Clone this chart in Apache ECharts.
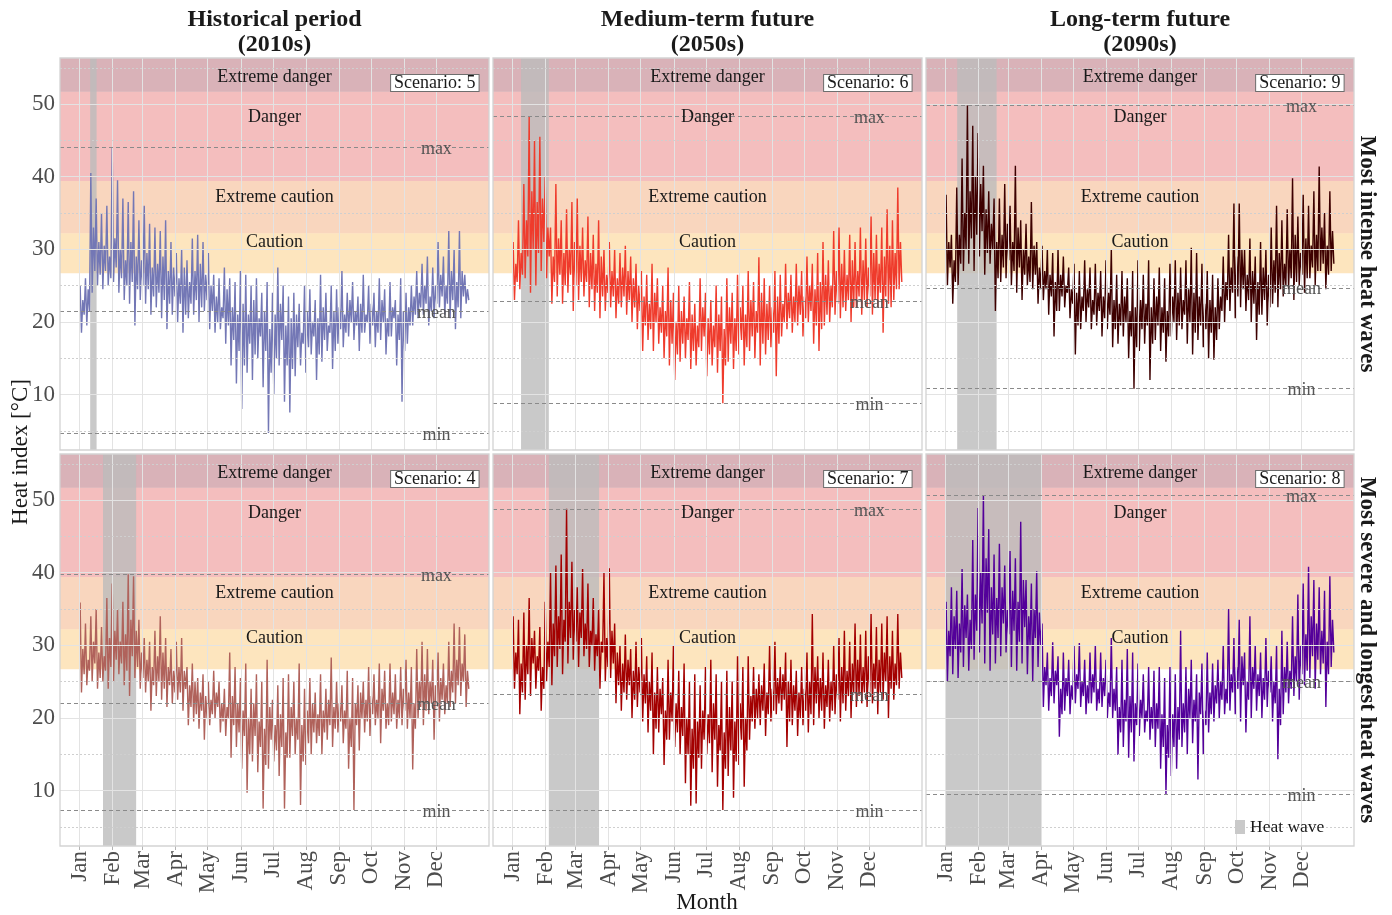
<!DOCTYPE html>
<html>
<head>
<meta charset="utf-8">
<script src="https://cdn.jsdelivr.net/npm/echarts@6/dist/echarts.min.js"></script>
<style>
  html, body { margin: 0; padding: 0; background: #ffffff; }
  #chart { width: 1392px; height: 915px; }
</style>
</head>
<body>
<div id="chart"></div>
<script>
// ---- axes and categories ----
const months = ['Jan', 'Feb', 'Mar', 'Apr', 'May', 'Jun', 'Jul', 'Aug', 'Sep', 'Oct', 'Nov', 'Dec'];
const monthStartDay = [0, 31, 59, 90, 120, 151, 181, 212, 243, 273, 304, 334];
const yMajorTicks = [10, 20, 30, 40, 50];
const yMinorTicks = [5, 15, 25, 35, 45, 55];

// heat index categories (lower bound, °C) and where their names sit
const bandNames = ['Caution', 'Extreme caution', 'Danger', 'Extreme danger'];
const bandLower = [26.7, 32.2, 39.4, 51.7];
const bandLabelValue = [31.2, 37.4, 48.5, 54];

const periodTitles = ['Historical period', 'Medium-term future', 'Long-term future'];
const periodYears = ['(2010s)', '(2050s)', '(2090s)'];
const rowTitles = ['Most intense heat waves', 'Most severe and longest heat waves'];

// panel order: row 1 (2010s, 2050s, 2090s), row 2 (2010s, 2050s, 2090s)
const scenarioIds = [5, 6, 9, 4, 7, 8];
const heatWaveStart = [10, 8, 11, 22, 34, 0];   // day of year
const heatWaveEnd = [16, 34, 48, 53, 81, 90];
const statMax = [44.0, 48.3, 49.8, 39.8, 48.8, 50.7];
const statMean = [21.4, 22.9, 24.7, 22.0, 23.2, 25.1];
const statMin = [4.7, 8.8, 10.8, 7.3, 7.3, 9.5];

// heat index (°C) per five-day step, Jan 1 -> Dec 31:
// main peak, main trough, secondary peak, secondary trough
const peaks2010sIntense = [25,26,40.5,37,35,36,44,39.5,37,36.5,38,34,36,33.5,33,32.5,34,31,29.5,30,28.5,31.5,32,31,29.5,26.5,26,27.5,26,25.5,27,26.5,25,26,24,25.5,24,27.5,25,23.5,24,22.5,25,24.5,23,26.5,24,25,24.5,27,24,25.5,23.5,26.5,25,24,26,24.5,25.5,23,26,24,25,27,28,29,27.5,31,29,32.5,30,32.5,26.5];
const troughs2010sIntense = [18.5,19.5,24,25,24.5,25,25.5,24,23,22.5,19.5,23,22.5,21,22,20.5,19,21,20,18.5,20.5,21,20,21.5,19,18.5,19,17,14,11.5,8,13,12,15,11,4.7,10,14,9,7.5,12.5,14,13,15.5,12,14.5,16,13.5,17,16.5,18,17.5,16,18.5,17,16.5,17.5,15.5,18,14,9,17,19.5,20.5,21,19.5,20.5,22,21,20.5,19,20.5,22.5];
const subPeaks2010sIntense = [23,24.5,33,31,30.5,29,31.5,30,28.5,31,29,28.5,29.5,27.5,28,29,27,27.5,26,27.5,25.5,27,28,26.5,25,23.5,22,24.5,22,21,22.5,21,23,20.5,21.5,19,21,22.5,19.5,20.5,21,18.5,21.5,20,20.5,22,19.5,21.5,22,21,23,21.5,22.5,21,22.5,21.5,23,20.5,22,21,21.5,22,23.5,24,25,23.5,25,26.5,25,27,25.5,27,24.5];
const subTroughs2010sIntense = [21,21.5,27,26.5,27,26,27.5,26,25,25.5,24.5,25,24.5,23.5,24,23,22.5,23.5,22.5,21,22.5,23,22,23,21.5,20,20.5,19.5,17.5,16,14,17,15.5,18,16,13,15,17.5,14,13.5,16.5,17,16.5,18,15.5,17.5,18.5,16,19,18.5,20,19.5,18.5,20,19.5,18.5,20,18,20.5,17.5,16,19.5,21,22,22.5,21.5,22.5,23.5,22.5,23,22,23.5,23];

const peaks2050sIntense = [31,34,39,48.3,45,45.5,40,33,39,34,35.5,36.5,37,33,34.5,32,34,30,31,30,29.5,30.5,29,28,27,26.5,28,26,25,27.5,24,25,23.5,25.5,22.5,26,24,23,25,23.5,26,24,26.5,25,27,25.5,28.9,26,25,27,26.5,28,26.5,28,27,29,28,29.5,31,28.5,32.5,33,30,32,31,33,31.5,34.5,32,33,35.5,34,38.5];
const troughs2050sIntense = [23,24.5,26,24,25,27,26,22.5,23.5,22.5,24,21.5,23,23.5,22,21.5,20.5,21.5,22,20.5,22,21,20,19,16,17.5,16,17,15,14,12,14.5,15,13.5,14,16,12.5,14,13,8.8,14.5,13.5,15.5,14,16,15,14,15.5,16.5,12.5,18,19,18.5,19.5,18,20,17,16,19.5,20,21,20.5,21.5,20,22,21,22,21,22,18.5,22.5,23,24.5];
const subPeaks2050sIntense = [28,29.5,34,38,36.5,37,33,29,31.5,29.5,30,31,30.5,28.5,29.5,28,29,26.5,27,26,27.5,27,26,25,23.5,22.5,24,22,21.5,23,20,21.5,20.5,21,19.5,22,20.5,19.5,21,19,22,20.5,22,21,23,21.5,24,22.5,22,23.5,22.5,24,23.5,25,23.5,25,24.5,25.5,26.5,25,27,28,26.5,28.5,27,28.5,27.5,29.5,28,29,30.5,29.5,31];
const subTroughs2050sIntense = [25.5,26.5,29,30,29.5,31,29,25.5,26.5,25,26.5,25,25.5,25.5,24.5,24,23.5,24,23.5,22.5,23.5,23,22,21.5,19.5,19,20,18.5,18,17,15.5,17,17.5,16,16.5,18,15.5,16.5,16,14,17,16,17.5,16.5,18,18.5,17,17.5,18.5,17,20,20.5,20,21,20.5,21.5,19.5,19,21,22,22.5,22,23,22,23.5,23,23.5,23,24,23.5,22,24.5,25.5];

const peaks2090sIntense = [37.5,32,38.5,42.5,49.8,47,46,41.5,38,37,37,39,36,41.5,34,33.5,36.5,31,30.5,30,29.5,30,29,27.5,28,27,28.5,27.5,28,27,28.5,30,26.5,27,26,27,28.5,26.5,28.5,26,27.5,26,28,28.5,27.5,28.5,30.2,29.5,28,27,26.5,26,29,32,36.3,36.3,30,31.5,29,31,30,33,36,34,35.5,39.8,34.5,37.5,36,38,41.4,35,38];
const troughs2090sIntense = [25,22.5,25,27,28,27,29,26.5,28,21.5,25.5,26,25,24,23,25,24.5,22.5,23,21,18,21.5,22,20.5,15.5,19,20,19,19.5,18,19,16.5,17,18,15,10.8,16,17,12,17.5,16,14.5,18,17.5,19,17,15.5,17.5,16.5,15,14.8,19,20,21.5,20.5,22,21.5,20,17.5,21,19.5,22.5,22,23.5,24.5,23,25,24,26,25,27,24.5,27];
const subPeaks2090sIntense = [31,28.5,32,35,38,40,39,35.5,33.5,31,32,33.5,31,33,30,29,30.5,27.5,27,26.5,25.5,26.5,25,24.5,24,23.5,24.5,23,24,23.5,24,23,22.5,23.5,21.5,22,23,22.5,22,23.5,22,21.5,23.5,24,23,24.5,24,23.5,22.5,23,22,23.5,25.5,27.5,29,30,26.5,27,25.5,27.5,26.5,28.5,29.5,28,30,32,29.5,31.5,30.5,32,33,30.5,32.5];
const subTroughs2090sIntense = [27.5,25.5,28,30,31.5,32,32.5,29.5,30,26,27.5,28.5,27,27.5,26.5,25.5,26.5,24.5,24.5,23.5,21.5,23.5,24,22.5,19.5,21.5,22,21,21.5,20.5,21,19,19.5,20,18,16.5,19,19.5,17,19.5,18.5,18,20,19.5,21,20,18.5,19.5,19,18.5,17.5,21.5,23,24,23.5,24.5,23,22.5,21,23,22,24,24.5,25,26,25.5,26.5,26,27.5,27,28,26.5,28];

const peaks2010sSevere = [35.9,33,34,35,32.5,36.5,38.5,35,36,39.8,39.5,33.5,31,30.5,32,34,31,29.5,30.5,31,27,27.5,25.5,26,25,26.5,25,24,29,27,25.5,27.5,24,26,25,28,22.5,24.5,25.5,26,25,27.5,24,25.5,23.5,26,24,28.3,25,24.5,26.5,25.5,24.5,25,27,26,27.5,26.5,27.5,26,27,28,27,29.5,30.5,29.5,28,29,27.5,30.5,33,32.5,31.5];
const troughs2010sSevere = [23.5,24.5,25,24,25,24,25,26,24.5,23,25.5,24,23.5,21,23,22.5,21.5,22,22.5,21,19,19.5,18.5,17,19,20,18,17.5,14.5,16,13,9.7,14,12.5,7.5,13,14,12,7.5,14.5,15,8,13.5,15,16.5,15,17,16,18,16.5,13,7.3,15.5,18,17.5,19,16.5,18.5,19.5,18.5,19,18.5,12.9,20,19,20.5,17,19.5,20.5,21.5,22,23,21.5];
const subPeaks2010sSevere = [29.5,28,30.5,29,28.5,31,32,30.5,31.5,33.5,32,29,28,27,28.5,29,27,26.5,27,26.5,24.5,25,23.5,23,22.5,23.5,22,21.5,23,22,21,20,22,19.5,18.5,21.5,19,20.5,18,21.5,20,19,21,22,20.5,21,22.5,21.5,22,21,20,22,23.5,22.5,23,22.5,24,22,23.5,22.5,24,23.5,22,25,26,25,24.5,25.5,24.5,26.5,28,27.5,26.5];
const subTroughs2010sSevere = [26,26.5,27.5,25.5,26.5,27,28,27.5,26.5,28.5,27,25.5,25,24.5,25,24,24.5,23.5,23.5,24,21.5,20.5,21,20,20.5,21.5,19.5,20,19,18,17.5,15,17.5,16,13.5,17,15.5,16,14.5,17.5,17,14,16.5,18,17.5,18,19,18.5,19.5,18.5,16,19,20,19.5,20.5,20,21,19,20.5,20,21,20,18.5,21.5,21,22,21.5,22.5,22,23.5,24.5,25,24];

const peaks2050sSevere = [34,33.5,34.5,36.5,32,32.5,36,40,41,42.5,48.8,41.5,38,40.5,38.5,36.5,35,40,40.6,33,30,31.5,29.5,30.5,31,28.5,29,27,25.5,28,30,26.5,27.5,25,26,24.5,27,28,26,25,26.5,25,28.5,27,28.5,27,26,27.5,30,30.5,27,29,28,26.5,27,29,34.3,28.5,29,28,30,31,32,30.5,33,31.5,32,34.3,32.5,33,34,32,34.3];
const troughs2050sSevere = [24,20.5,22.5,23,24,21,25,24.5,27,26,27.5,28,27,28.5,27,26.5,24,25,25.5,22,21,22.5,20,21.5,19.5,18,15,18,13.5,17,16,15,11,7.9,8.2,13,15,12.5,10.5,7.3,12,9,13.5,10.5,17,18.5,19,17.5,19.5,20.5,21,16,19,17.5,19,18,19,20,18.5,19.5,20.5,19.5,21,20,21.5,22,21.5,22,20.5,22.5,20,22.5,24];
const subPeaks2050sSevere = [29,27.5,30,31,28.5,27,30.5,33,34,33.5,36,35,34.5,33,32,31.5,30.5,31,32,29,27.5,28,26.5,27,26,25,23.5,24,21,23.5,22,21.5,20,18.5,19.5,21,20.5,22,19,18,21.5,19.5,22,20,23,24,24.5,23.5,24,25.5,26,25,24.5,23.5,24,25,27,25.5,24.5,25,26,27,26.5,27.5,28,27,28.5,27.5,28,29,28.5,27.5,29];
const subTroughs2050sSevere = [26,23.5,26,27.5,26.5,24,27,28.5,29.5,30.5,31,30.5,31,29.5,30,28.5,29,27,27.5,24.5,23.5,24.5,22.5,23.5,22,21,18.5,20.5,17,19.5,18,17.5,15,13,14.5,17,16.5,17,15.5,13,15.5,14,17,15.5,19.5,20,21,20.5,21,22,22.5,19.5,21,20,21,20.5,22,21,21.5,21,22.5,22,23,23.5,23,23.5,23.5,24,23.5,25,24,24.5,25.5];

const peaks2090sSevere = [36,38,37.5,40.5,37,44.5,48.9,50.7,46,42.5,44,41,43,42,47,39,38.5,40.2,33,29,30.4,28.5,29,28,30,30.3,28,29,30,29,28,31,27,28,29.5,29,27.5,26,27,26.5,27,25.5,27,26,32,27,28,26,27.5,29,27.5,28,30,35,31,33.5,29,34,30,29,31,28.5,30,32,30.5,34,37,38.5,40.8,39,38,37.5,39.5];
const troughs2090sSevere = [25,26,25.5,27,26.5,28,29,27.5,26.5,27.5,28.5,29,27,26.5,27.5,26,25,27,21.5,21,22,17.4,21,20.5,22,21.5,20.5,22,21,21.5,20,20,14.9,16,14.5,14,17.5,18,17,16,13,9.5,12,13,16,15,16.5,11.5,15,18,19.5,20,20.5,21,20.5,19.5,18,20,21,20,21.5,19.5,14.3,20.5,22,23,22.5,24.5,25.5,24,26,21.5,27];
const subPeaks2090sSevere = [32,34,33,35.5,33.5,37,40,42,38,36.5,38,35,37.5,36,39,34,35,34.5,27,25.5,26.5,24,25.5,24.5,26,25,24.5,26,24,25.5,23.5,24,21.5,22.5,23,22,22.5,21,21.5,22,20.5,19,20.5,21.5,22,24,22.5,23.5,21,23.5,24.5,25,24,26,27,28.5,25,27,26,25.5,26.5,25,24,27,26.5,28.5,30,31.5,34,33,32,30.5,33.5];
const subTroughs2090sSevere = [28.5,29.5,29,31,29.5,32,33,34.5,31.5,31,33,31.5,32,30.5,32.5,30,31,30,24.5,23,24.5,20.5,23,22.5,24,23,22,23.5,22,23,21.5,21,18,19.5,18,19,20,19.5,18.5,18.5,16,14.5,16,17,18,20,19.5,20.5,19,20.5,22,22.5,22,23.5,24,24.5,22.5,24,23,22.5,23.5,22,19,23.5,24,25,26,26.5,28.5,28,27.5,26,29];

const peakSeries = [peaks2010sIntense, peaks2050sIntense, peaks2090sIntense, peaks2010sSevere, peaks2050sSevere, peaks2090sSevere];
const troughSeries = [troughs2010sIntense, troughs2050sIntense, troughs2090sIntense, troughs2010sSevere, troughs2050sSevere, troughs2090sSevere];
const subPeakSeries = [subPeaks2010sIntense, subPeaks2050sIntense, subPeaks2090sIntense, subPeaks2010sSevere, subPeaks2050sSevere, subPeaks2090sSevere];
const subTroughSeries = [subTroughs2010sIntense, subTroughs2050sIntense, subTroughs2090sIntense, subTroughs2010sSevere, subTroughs2050sSevere, subTroughs2090sSevere];
const lineColors = ['#7377b5', '#ef3b2c', '#3d0000', '#b0625b', '#a30000', '#53009a'];

// ---- layout ----
const FONT = 'Liberation Serif';
const colLeft = [60, 493, 926];
const colWidth = [429, 429, 428];
const rowTop = [58, 454];
const panelHeight = 392;
const X_MIN = -18.25, X_MAX = 383.25;
const Y_MIN = 2.35, Y_MAX = 56.35;
const DAYS_PER_STEP = 5;
const STEP_OFFSETS = [0.6, 1.85, 3.1, 4.35];

const bandColors = ['rgba(250,170,40,0.3)', 'rgba(235,120,40,0.3)', 'rgba(220,40,40,0.3)', 'rgba(140,20,40,0.33)'];

// interleave the four readings of each five-day step into one time series
function weave(p) {
  const cols = [peakSeries[p], troughSeries[p], subPeakSeries[p], subTroughSeries[p]];
  const pts = [];
  for (let k = 0; k < cols[0].length; k++) {
    cols.forEach((arr, j) => pts.push([k * DAYS_PER_STEP + STEP_OFFSETS[j], arr[k]]));
  }
  return pts;
}

const grids = [], xAxes = [], yAxes = [], series = [], graphics = [];

for (let p = 0; p < 6; p++) {
  const row = Math.floor(p / 3), col = p % 3;
  const bottomRow = row === 1, leftCol = col === 0;
  grids.push({
    left: colLeft[col], top: rowTop[row], width: colWidth[col], height: panelHeight,
    containLabel: false, outerBoundsMode: 'none', show: false
  });
  xAxes.push({
    gridIndex: p, type: 'value', min: X_MIN, max: X_MAX,
    splitLine: { show: false }, axisLine: { show: false },
    axisTick: { show: bottomRow, customValues: monthStartDay, length: 4, lineStyle: { color: '#b3b3b3' } },
    axisLabel: {
      show: bottomRow, customValues: monthStartDay, rotate: 90, margin: 5,
      fontFamily: FONT, fontSize: 23, color: '#4d4d4d',
      formatter: v => months[monthStartDay.indexOf(Math.round(v))] || ''
    }
  });
  yAxes.push({
    gridIndex: p, type: 'value', min: Y_MIN, max: Y_MAX,
    splitLine: { show: false }, axisLine: { show: false },
    axisTick: { show: leftCol, customValues: yMajorTicks, length: 4, lineStyle: { color: '#b3b3b3' } },
    axisLabel: {
      show: leftCol, customValues: yMajorTicks, margin: 5,
      fontFamily: FONT, fontSize: 23, color: '#4d4d4d'
    }
  });

  const base = { xAxisIndex: p, yAxisIndex: p, animation: false, silent: true };

  // panel grid lines
  const gridLines = [];
  monthStartDay.forEach(d => gridLines.push({ xAxis: d, lineStyle: { color: '#e3e3e3', width: 1, type: 'solid' } }));
  yMajorTicks.forEach(v => gridLines.push({ yAxis: v, lineStyle: { color: '#e3e3e3', width: 1, type: 'solid' } }));
  yMinorTicks.forEach(v => gridLines.push({ yAxis: v, lineStyle: { color: '#cfcfcf', width: 1, type: [2, 2] } }));
  series.push(Object.assign({}, base, {
    type: 'line', data: [], z: 1,
    markLine: { silent: true, animation: false, symbol: ['none', 'none'], label: { show: false }, data: gridLines }
  }));

  // heat index category bands
  const bandAreas = bandLower.map((lo, i) => [
    { yAxis: lo, itemStyle: { color: bandColors[i] } },
    { yAxis: i < bandLower.length - 1 ? bandLower[i + 1] : Y_MAX }
  ]);
  series.push(Object.assign({}, base, {
    type: 'line', data: [], z: 2,
    markArea: { silent: true, animation: false, data: bandAreas }
  }));

  // heat wave period
  series.push(Object.assign({}, base, {
    type: 'line', data: [], z: 3,
    markArea: {
      silent: true, animation: false,
      data: [[{ xAxis: heatWaveStart[p], itemStyle: { color: 'rgba(188,188,188,0.8)' } }, { xAxis: heatWaveEnd[p] }]]
    }
  }));

  // heat index series
  series.push(Object.assign({}, base, {
    type: 'line', z: 4, showSymbol: false, clip: true,
    data: weave(p),
    lineStyle: { color: lineColors[p], width: 1.4 },
    itemStyle: { color: lineColors[p] }
  }));

  // max / mean / min reference lines
  const statStyle = { color: '#8a8a8a', width: 1, type: [4, 3] };
  series.push(Object.assign({}, base, {
    type: 'line', data: [], z: 5,
    markLine: {
      silent: true, animation: false, symbol: ['none', 'none'], label: { show: false },
      data: [
        { yAxis: statMax[p], lineStyle: statStyle },
        { yAxis: statMean[p], lineStyle: statStyle },
        { yAxis: statMin[p], lineStyle: statStyle }
      ]
    }
  }));

  // text annotations
  const textStyle = { fontFamily: FONT, fontSize: 18, color: '#1a1a1a' };
  const labelPoints = [];
  bandNames.forEach((name, i) => labelPoints.push({
    name: name, coord: [182.5, bandLabelValue[i]],
    label: Object.assign({ show: true, position: 'inside', offset: [0, 2], formatter: '{b}' }, textStyle)
  }));
  [['max', statMax[p]], ['mean', statMean[p]], ['min', statMin[p]]].forEach(([name, v]) => labelPoints.push({
    name: name, coord: [334, v],
    label: Object.assign({ show: true, position: 'inside', offset: [0, 2], formatter: '{b}' }, textStyle, { color: '#555555' })
  }));
  labelPoints.push({
    name: 'Scenario: ' + scenarioIds[p], coord: [373.5, 52.9],
    label: Object.assign({
      show: true, position: 'left', distance: 0, formatter: '{b}',
      backgroundColor: '#ffffff', borderColor: '#6e6e6e', borderWidth: 1,
      padding: [1, 3, 0, 3], lineHeight: 15
    }, textStyle)
  });
  series.push(Object.assign({}, base, {
    type: 'line', data: [], z: 6,
    markPoint: { silent: true, animation: false, symbol: 'circle', symbolSize: 0, data: labelPoints }
  }));

  // panel border
  graphics.push({
    type: 'rect', z: 100, silent: true,
    shape: { x: colLeft[col], y: rowTop[row], width: colWidth[col], height: panelHeight },
    style: { fill: 'none', stroke: '#d3d3d3', lineWidth: 1.3 }
  });
}

function label(text, x, y, opts) {
  return Object.assign({
    type: 'text', x: x, y: y, z: 110, silent: true,
    style: Object.assign({
      text: text, fill: '#1a1a1a', font: '23px "' + FONT + '"',
      align: 'center', verticalAlign: 'middle', textAlign: 'center', textVerticalAlign: 'middle'
    }, opts && opts.style)
  }, opts && opts.el);
}

// column titles
for (let c = 0; c < 3; c++) {
  const cx = colLeft[c] + colWidth[c] / 2;
  graphics.push(label(periodTitles[c], cx, 20, { style: { font: 'bold 24px "' + FONT + '"' } }));
  graphics.push(label(periodYears[c], cx, 45, { style: { font: 'bold 24px "' + FONT + '"' } }));
}
// row strips
for (let r = 0; r < 2; r++) {
  graphics.push(label(rowTitles[r], 1367, rowTop[r] + panelHeight / 2, {
    style: { font: 'bold 23px "' + FONT + '"' }, el: { rotation: -Math.PI / 2 }
  }));
}
// axis titles
graphics.push(label('Heat index [°C]', 21, 452, { el: { rotation: Math.PI / 2 } }));
graphics.push(label('Month', 707, 903));
// legend
graphics.push({
  type: 'rect', z: 110, silent: true,
  shape: { x: 1235, y: 820, width: 10, height: 14 },
  style: { fill: '#c9c9c9' }
});
graphics.push(label('Heat wave', 1250, 827, { style: { font: '17.5px "' + FONT + '"', align: 'left', textAlign: 'left' } }));

const chart = echarts.init(document.getElementById('chart'), null, { renderer: 'canvas' });
chart.setOption({
  animation: false,
  backgroundColor: '#ffffff',
  grid: grids,
  xAxis: xAxes,
  yAxis: yAxes,
  series: series,
  graphic: graphics
});
</script>
</body>
</html>
